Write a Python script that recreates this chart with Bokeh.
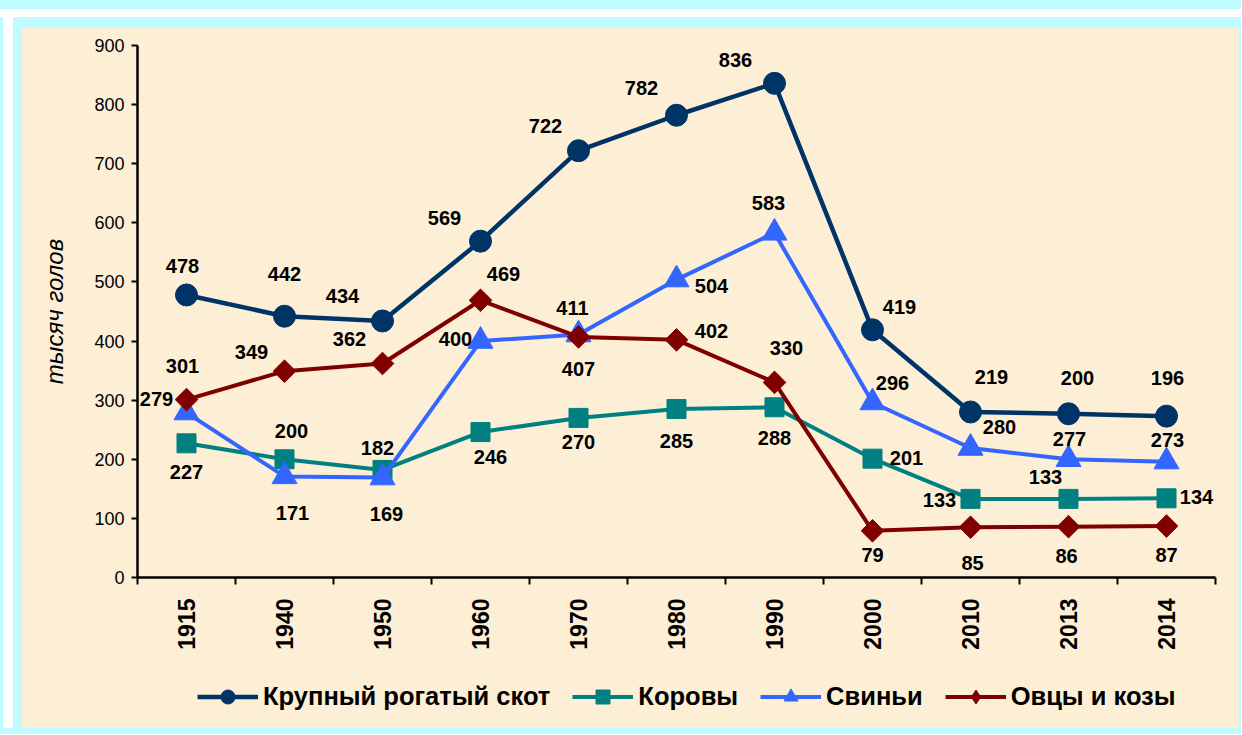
import math
from bokeh.plotting import figure
from bokeh.models import (ColumnDataSource, FixedTicker, Legend, LegendItem,
                          Range1d, Spacer)
from bokeh.layouts import column, row
from bokeh.embed import file_html
from bokeh.resources import INLINE
from bokeh.core.properties import value

# ---------------- data ----------------
years = ["1915", "1940", "1950", "1960", "1970", "1980", "1990", "2000", "2010", "2013", "2014"]
cattle = [478, 442, 434, 569, 722, 782, 836, 419, 280, 277, 273]
cows = [227, 200, 182, 246, 270, 285, 288, 201, 133, 133, 134]
pigs = [279, 171, 169, 400, 411, 504, 583, 296, 219, 200, 196]
sheep = [301, 349, 362, 469, 407, 402, 330, 79, 85, 86, 87]

cattle_labels = ["478", "442", "434", "569", "722", "782", "836", "419", "219", "200", "196"]
cows_labels = ["227", "200", "182", "246", "270", "285", "288", "201", "133", "133", "134"]
pigs_labels = ["279", "171", "169", "400", "411", "504", "583", "296", "280", "277", "273"]
sheep_labels = ["301", "349", "362", "469", "407", "402", "330", "79", "85", "86", "87"]

series_names = ["Крупный рогатый скот", "Коровы", "Свиньи", "Овцы и козы"]
y_ticks = [0, 100, 200, 300, 400, 500, 600, 700, 800, 900]
y_title = "тысяч голов"

# ---------------- label placement (screen px offsets) ----------------
cattle_off = [(-4, -29), (0, -42), (-40, -25), (-36, -23), (-33, -25), (-35, -27),
              (-39, -23), (27, -23), (21, -35), (9, -36), (1, -38)]
cows_off = [(0, 29), (7, -28), (-5, -22), (10, 25), (0, 24), (0, 32), (0, 31),
            (34, -1), (-31, 1), (-23, -22), (30, -1)]
pigs_off = [(-30, -14), (8, 37), (4, 36), (-25, -2), (-6, -27), (35, 6), (-6, -30),
            (20, -20), (29, -21), (1, -20), (1, -22)]
sheep_off = [(-4, -34), (-33, -19), (-33, -25), (23, -26), (0, 32), (35, -9), (12, -34),
             (0, 24), (2, 36), (-2, 29), (0, 29)]

FONT = "Liberation Sans"
BEIGE = "#FCEFD6"
CYAN = "#BFFCFF"

PW = 1217          # inner panel width
MAIN_H = 632       # main chart height
LEG_H = 68         # legend strip height
ML, MR = 115, 24   # left/right borders of the frames

p = figure(width=PW, height=MAIN_H, output_backend="svg", toolbar_location=None,
           x_range=Range1d(0, len(years)), y_range=Range1d(0, 900),
           min_border_left=ML, min_border_right=MR, min_border_top=17,
           min_border_bottom=83)
p.border_fill_color = BEIGE
p.background_fill_alpha = 0
p.outline_line_color = None
p.grid.grid_line_color = None

xs = [i + 0.5 for i in range(len(years))]

specs = [
    (cattle, cattle_labels, cattle_off, "#003366", "circle", 22, 0.0, 4.5, "circle"),
    (cows, cows_labels, cows_off, "#008080", "square", 19, 0.0, 4, "square"),
    (pigs, pigs_labels, pigs_off, "#3366FF", "triangle", 25, 0.0, 4, "triangle"),
    (sheep, sheep_labels, sheep_off, "#800000", "square", 16, math.pi / 4, 4, "diamond"),
]

# legend strip: separate figure whose ranges keep the proxy glyphs out of view
pl = figure(width=PW, height=LEG_H, output_backend="svg", toolbar_location=None,
            x_range=Range1d(-3, -2), y_range=Range1d(0, 900),
            x_axis_type=None, y_axis_type=None,
            min_border_left=ML, min_border_right=MR, min_border_top=0, min_border_bottom=0)
pl.border_fill_color = BEIGE
pl.background_fill_alpha = 0
pl.outline_line_color = None
pl.grid.grid_line_color = None

items = []
for name, (vals, labs, offs, color, marker, size, ang, lw, leg_marker) in zip(series_names, specs):
    src = ColumnDataSource(dict(x=xs, y=vals, text=labs,
                                dx=[o[0] for o in offs], dy=[o[1] for o in offs]))
    p.line("x", "y", source=src, line_color=color, line_width=lw)
    p.scatter("x", "y", source=src, marker=marker, size=size, angle=ang,
              fill_color=color, line_color=color)
    p.text("x", "y", text="text", source=src, x_offset="dx", y_offset="dy",
           text_font=value(FONT), text_font_style="bold", text_font_size="20px",
           text_align="center", text_baseline="middle", text_color="black")
    lr = pl.line("x", "y", source=src, line_color=color, line_width=lw)
    sr = pl.scatter("x", "y", source=src, marker=leg_marker, size=size,
                    fill_color=color, line_color=color)
    items.append(LegendItem(label=name, renderers=[lr, sr]))

# axes
p.xaxis.ticker = FixedTicker(ticks=xs, minor_ticks=list(range(len(years) + 1)))
p.xaxis.major_label_overrides = {x: y for x, y in zip(xs, years)}
p.xaxis.major_label_orientation = math.pi / 2
p.xaxis.major_tick_out = 0
p.xaxis.major_tick_in = 0
p.xaxis.minor_tick_out = 7
p.xaxis.minor_tick_in = 0
p.xaxis.minor_tick_line_color = "black"
p.xaxis.minor_tick_line_width = 2
p.xaxis.axis_line_width = 2.5
p.xaxis.axis_line_color = "black"
p.xaxis.major_label_standoff = 14
p.xaxis.major_label_text_font = FONT
p.xaxis.major_label_text_font_style = "bold"
p.xaxis.major_label_text_font_size = "23px"
p.xaxis.major_label_text_color = "black"

p.yaxis.ticker = FixedTicker(ticks=y_ticks)
p.yaxis.major_tick_out = 6
p.yaxis.major_tick_in = 0
p.yaxis.minor_tick_line_color = None
p.yaxis.major_tick_line_width = 2
p.yaxis.major_tick_line_color = "black"
p.yaxis.axis_line_width = 2.5
p.yaxis.axis_line_color = "black"
p.yaxis.major_label_standoff = 7
p.yaxis.major_label_text_font = FONT
p.yaxis.major_label_text_font_size = "18px"
p.yaxis.major_label_text_color = "black"
p.yaxis.axis_label = y_title
p.yaxis.axis_label_text_font = FONT
p.yaxis.axis_label_text_font_style = "italic"
p.yaxis.axis_label_text_font_size = "24px"
p.yaxis.axis_label_text_color = "black"
p.yaxis.axis_label_standoff = 23

legend = Legend(items=items, orientation="horizontal", location=(60, 14),
                glyph_width=61, glyph_height=35, label_height=35,
                label_standoff=5, spacing=22, padding=0, margin=0,
                border_line_color=None, background_fill_alpha=0,
                label_text_font=FONT, label_text_font_style="bold",
                label_text_font_size="25.5px", label_text_color="black")
pl.add_layout(legend)

# cyan frame with white stripe (page decoration)
top_bg = ("linear-gradient(to bottom, %s 0px, %s 9px, white 9px, white 17px, transparent 17px), "
          "linear-gradient(to right, %s 0px, %s 3px, white 3px, white 13px, %s 13px)"
          % (CYAN, CYAN, CYAN, CYAN, CYAN))
left_bg = ("linear-gradient(to right, %s 0px, %s 3px, white 3px, white 13px, %s 13px)"
           % (CYAN, CYAN, CYAN))
top = Spacer(width=22 + PW + 2, height=28, styles={"background": top_bg})
left = Spacer(width=22, height=MAIN_H + LEG_H, styles={"background": left_bg})
right = Spacer(width=2, height=MAIN_H + LEG_H, styles={"background": CYAN})
bottom = Spacer(width=22 + PW + 2, height=6, styles={"background": CYAN})

panel = column(p, pl, styles={"background": BEIGE})
root = column(top, row(left, panel, right), bottom)

open("out.html", "w").write(file_html(root, INLINE))
